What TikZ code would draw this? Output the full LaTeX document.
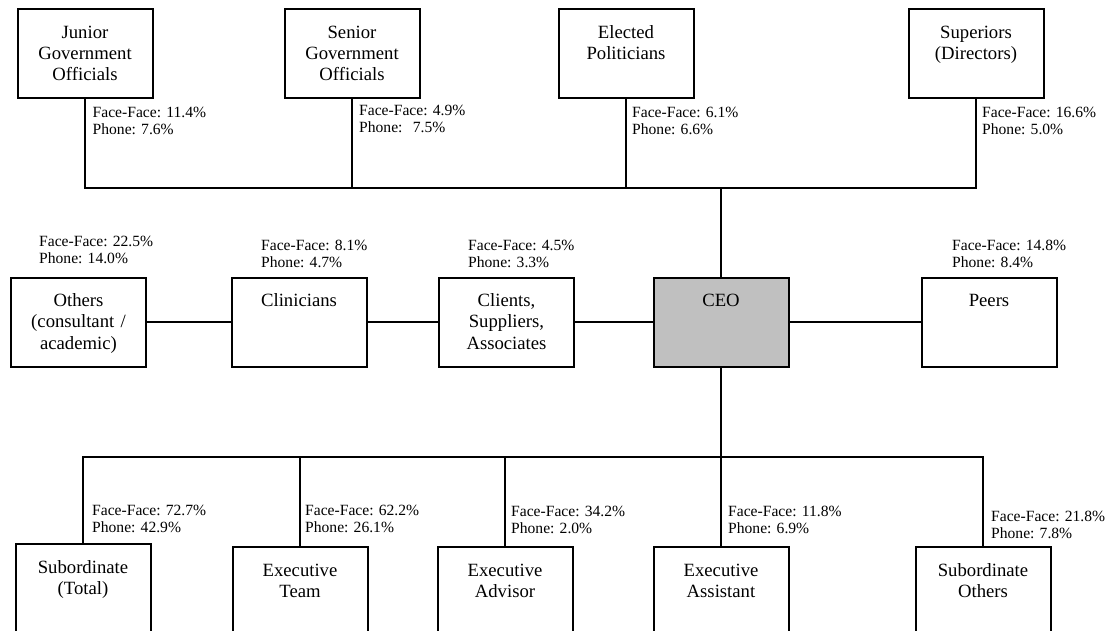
\documentclass[tikz,border=0pt]{standalone}
\usepackage{fontspec}
\setmainfont{Liberation Serif}
\usepackage{tikz}
\definecolor{ceogray}{RGB}{192,192,192}
\newcommand{\boxfont}{\fontsize{18.7}{21.3}\selectfont}
\newcommand{\statfont}{\fontsize{15.6}{17.6}\selectfont\frenchspacing}

\begin{document}
\begin{tikzpicture}[x=1pt,y=-1pt,
  role/.style={draw,line width=2pt,minimum width=135pt,minimum height=89pt,
    inner sep=0pt,text width=130pt,align=center,
    text height=29pt,text depth=60pt,font=\boxfont},
  stat/.style={inner sep=0pt,text width=125pt,align=left,
    anchor=base west,font=\statfont},
  link/.style={line width=1.6pt}]
  \useasboundingbox (0,0) rectangle (1109,630);
  \clip (0,0) rectangle (1109,630);

  % Upper tier: officials, politicians and directors.
  \node[role] (junior) at (85,53.5) {Junior\\Government\\Officials};
  \node[role] (senior) at (352,53.5) {Senior\\Government\\Officials};
  \node[role] (elected) at (626,53.5) {Elected\\Politicians};
  \node[role] (superiors) at (976,53.5) {Superiors\\(Directors)};

  % Middle tier, with the CEO.
  \node[role] (others) at (78.5,322) {Others\\(consultant /\\academic)};
  \node[role] (clinicians) at (299,322) {Clinicians};
  \node[role] (clients) at (506.5,322) {Clients,\\Suppliers,\\Associates};
  \node[role,fill=ceogray] (ceo) at (721,322) {CEO};
  \node[role] (peers) at (989,322) {Peers};

  % Lower tier: subordinates (boxes run off the page).
  \node[role] (subtotal) at (83,588.5) {Subordinate\\(Total)};
  \node[role] (execteam) at (300,591.5) {Executive\\Team};
  \node[role] (execadvisor) at (505,591.5) {Executive\\Advisor};
  \node[role] (execassist) at (721,591.5) {Executive\\Assistant};
  \node[role] (subothers) at (983,591.5) {Subordinate\\Others};

  % Buses and links.
  \coordinate (topbus) at (721,188);
  \coordinate (lowbus) at (721,457);
  \draw[link] (junior.south) |- (topbus) -| (superiors.south);
  \foreach \n in {senior,elected}
    \draw[link] (\n.south) -- (\n.south |- topbus);
  \draw[link] (ceo.north) -- (topbus);
  \draw[link] (others) -- (clinicians) -- (clients) -- (ceo) -- (peers);
  \draw[link] (subtotal.north) |- (lowbus) -| (subothers.north);
  \foreach \n in {execteam,execadvisor}
    \draw[link] (\n.north) -- (\n.north |- lowbus);
  \draw[link] (ceo.south) -- (execassist.north);

  % Contact shares.
  \foreach \n/\x/\y/\ff/\ph in {junior/92.5/117/11.4/7.6,senior/359/115/4.9/\ 7.5,
      elected/632/117/6.1/6.6,superiors/982/117/16.6/5.0,
      others/39/246/22.5/14.0,clinicians/261/250/8.1/4.7,
      clients/468/250/4.5/3.3,peers/952/250/14.8/8.4,
      subtotal/92/515/72.7/42.9,execteam/305/515/62.2/26.1,
      execadvisor/511/516/34.2/2.0,execassist/728/516/11.8/6.9,
      subothers/991/521/21.8/7.8}
    \node[stat] (\n-stat) at (\x,\y) {Face-Face: \ff\%\\Phone: \ph\%};
\end{tikzpicture}
\end{document}
